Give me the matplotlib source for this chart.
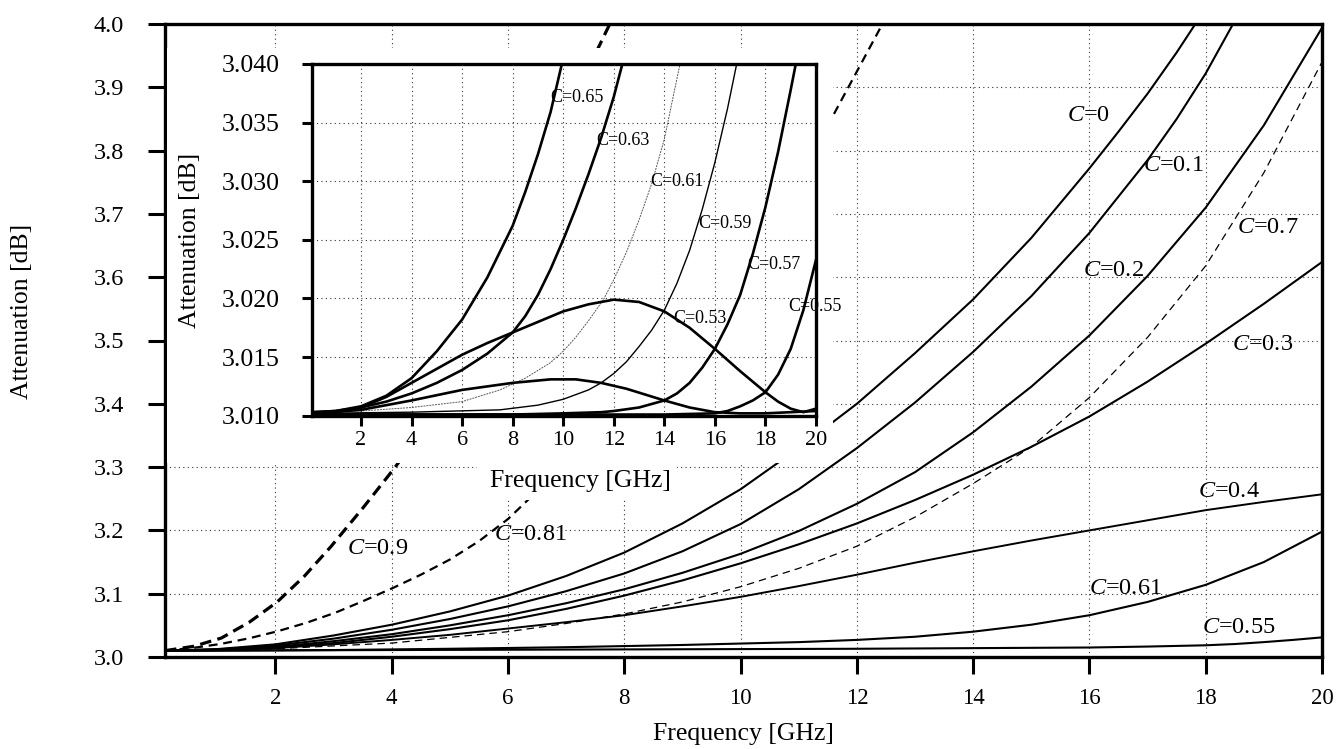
import numpy as np
import matplotlib
matplotlib.use('Agg')
import matplotlib.pyplot as plt
from matplotlib.patches import Rectangle

plt.rcParams['font.family'] = ['Liberation Serif', 'DejaVu Serif']
plt.rcParams['mathtext.fontset'] = 'custom'
plt.rcParams['mathtext.rm'] = 'Liberation Serif'
plt.rcParams['mathtext.it'] = 'Liberation Serif:italic'

# ---------------- main chart data (frequency GHz, attenuation dB) -------------
c00_x = [0.1, 1, 2, 3, 4, 5, 6, 7, 8, 9, 10, 11, 12, 13, 14, 15, 16, 16.5, 17, 17.5, 18]
c00_y = [3.010, 3.0125, 3.020, 3.034, 3.051, 3.072, 3.097, 3.128, 3.165, 3.211,
         3.265, 3.330, 3.400, 3.480, 3.565, 3.662, 3.772, 3.830, 3.890, 3.955, 4.025]
c01_x = [0.1, 1, 2, 3, 4, 5, 6, 7, 8, 9, 10, 11, 12, 13, 14, 15, 16, 17, 17.5, 18, 18.5]
c01_y = [3.010, 3.012, 3.018, 3.029, 3.043, 3.060, 3.080, 3.104, 3.132, 3.167,
         3.210, 3.265, 3.330, 3.402, 3.482, 3.570, 3.670, 3.785, 3.850, 3.922, 4.005]
c02_x = [0.1, 1, 2, 3, 4, 5, 6, 7, 8, 9, 10, 11, 12, 13, 14, 15, 16, 17, 18, 19, 20]
c02_y = [3.010, 3.011, 3.016, 3.025, 3.036, 3.050, 3.066, 3.085, 3.107, 3.133,
         3.163, 3.199, 3.242, 3.292, 3.355, 3.427, 3.508, 3.602, 3.710, 3.840, 3.994]
c03_x = [0.1, 1, 2, 3, 4, 5, 6, 7, 8, 9, 10, 11, 12, 13, 14, 15, 16, 17, 18, 19, 20]
c03_y = [3.010, 3.0115, 3.015, 3.022, 3.032, 3.044, 3.058, 3.076, 3.097, 3.121,
         3.148, 3.178, 3.211, 3.248, 3.288, 3.332, 3.380, 3.435, 3.495, 3.558, 3.624]
c04_x = [0.1, 1, 2, 3, 4, 5, 6, 7, 8, 9, 10, 11, 12, 13, 14, 15, 16, 17, 18, 19, 20]
c04_y = [3.010, 3.011, 3.014, 3.020, 3.027, 3.035, 3.045, 3.055, 3.066, 3.080,
         3.095, 3.112, 3.130, 3.149, 3.167, 3.184, 3.200, 3.216, 3.232, 3.245, 3.257]
c07_x = [0.1, 2, 4, 6, 7, 8, 9, 10, 11, 12, 13, 14, 15, 16, 17, 18, 19, 20]
c07_y = [3.010, 3.013, 3.022, 3.040, 3.053, 3.068, 3.087, 3.111, 3.140, 3.175,
         3.221, 3.274, 3.332, 3.410, 3.505, 3.618, 3.765, 3.940]
c061_x = [0.1, 1, 3, 5, 7, 9, 11, 12, 13, 14, 15, 16, 17, 18, 19, 20]
c061_y = [3.010, 3.010, 3.011, 3.013, 3.0155, 3.019, 3.0235, 3.027, 3.032, 3.040,
          3.051, 3.066, 3.087, 3.114, 3.150, 3.198]
c055_x = [0.1, 4, 8, 12, 14, 16, 17, 18, 18.5, 19, 19.5, 20]
c055_y = [3.010, 3.011, 3.012, 3.013, 3.014, 3.015, 3.0165, 3.0185, 3.0205, 3.0235,
          3.027, 3.031]
c081_x = [0.1, 0.6, 1.05, 1.55, 2.03, 2.53, 3.03, 3.5, 4.03, 4.5, 5, 5.5, 6, 6.5, 7,
          8, 9, 10, 11, 11.63, 12, 12.44]
c081_y = [3.010, 3.0146, 3.0205, 3.0296, 3.0405, 3.054, 3.070, 3.088, 3.1095, 3.130,
          3.154, 3.183, 3.218, 3.262, 3.310, 3.405, 3.510, 3.625, 3.755, 3.862, 3.925,
          4.0]
c09_x = [0.1, 0.6, 1.07, 1.55, 2.03, 2.5, 2.95, 3.5, 4.06, 5, 6, 7, 7.54, 7.75]
c09_y = [3.010, 3.017, 3.030, 3.055, 3.087, 3.128, 3.174, 3.235, 3.300, 3.420,
         3.580, 3.800, 3.960, 4.0]

main_labels = [(15.98, 3.856, '0'), (17.44, 3.777, '0.1'), (19.06, 3.679, '0.7'),
               (16.41, 3.611, '0.2'), (18.97, 3.493, '0.3'), (18.40, 3.261, '0.4'),
               (16.61, 3.109, '0.61'), (18.57, 3.046, '0.55'), (6.38, 3.193, '0.81'),
               (3.75, 3.172, '0.9')]

# ---------------- inset data ----------------
i065_x = [0.1, 1, 2, 3, 4, 5, 6, 7, 8, 8.5, 9, 9.5, 10]
i065_y = [3.0103, 3.0104, 3.0108, 3.0117, 3.0132, 3.0155, 3.0182, 3.0218, 3.0262,
          3.0291, 3.0323, 3.0359, 3.0405]
i063_x = [0.1, 1, 2, 3, 4, 5, 6, 7, 8, 8.5, 9, 9.5, 10, 10.5, 11, 11.5, 12, 12.4]
i063_y = [3.0103, 3.0104, 3.0107, 3.0112, 3.0119, 3.0128, 3.0139, 3.0153, 3.0171,
          3.0185, 3.0203, 3.0225, 3.0250, 3.0277, 3.0306, 3.0337, 3.0372, 3.0405]
i061_x = [0.1, 2, 4, 6, 7.5, 8.5, 9.48, 10, 10.5, 11, 11.59, 12, 12.51, 13, 13.5, 14,
          14.62]
i061_y = [3.0102, 3.0104, 3.0107, 3.0112, 3.0122, 3.0132, 3.0145, 3.0155, 3.0167,
          3.0181, 3.0199, 3.0216, 3.0240, 3.0267, 3.0298, 3.0336, 3.0400]
i059_x = [0.1, 4, 7.5, 9, 10, 11, 11.5, 12, 12.5, 13, 13.5, 14, 14.5, 15, 15.5, 16,
          16.5, 16.9]
i059_y = [3.0102, 3.0103, 3.0105, 3.0109, 3.0114, 3.0122, 3.0128, 3.0136, 3.0146,
          3.0159, 3.0173, 3.0190, 3.0213, 3.0241, 3.0276, 3.0316, 3.0362, 3.0404]
i057_x = [0.1, 8, 10, 11.5, 12, 13, 14, 14.5, 15, 15.5, 16, 16.5, 17, 17.5, 18, 18.5,
          19, 19.2]
i057_y = [3.0101, 3.0101, 3.0102, 3.0103, 3.0104, 3.0107, 3.0113, 3.0119, 3.0128,
          3.0141, 3.0157, 3.0178, 3.0203, 3.0238, 3.0278, 3.0325, 3.0378, 3.0400]
i055_x = [0.1, 10, 14, 16, 16.5, 17, 17.5, 18, 18.5, 19, 19.5, 20]
i055_y = [3.0101, 3.0101, 3.0101, 3.0102, 3.0104, 3.0108, 3.0113, 3.0120, 3.0135,
          3.0157, 3.0190, 3.0233]
i053_x = [0.1, 1, 2, 3, 4, 5, 6, 7, 8, 9, 10, 11, 12, 13, 14, 15, 16, 17, 18, 18.5,
          19, 19.5, 20]
i053_y = [3.0102, 3.0103, 3.0107, 3.0116, 3.0128, 3.0140, 3.0152, 3.0162, 3.0171,
          3.0180, 3.0189, 3.0195, 3.0199, 3.0197, 3.0189, 3.0175, 3.0157, 3.0138,
          3.0120, 3.0112, 3.0106, 3.0103, 3.0106]
i051_x = [0.1, 2, 4, 6, 8, 9.5, 10.5, 11.5, 12.5, 14, 15, 16, 17, 18, 19, 20]
i051_y = [3.0102, 3.0105, 3.0113, 3.0122, 3.0128, 3.0131, 3.0131, 3.0128, 3.0123,
          3.0113, 3.0107, 3.0103, 3.0102, 3.0102, 3.0103, 3.0104]

inset_labels = [(10.55, 3.0371, '0.65'), (12.37, 3.0335, '0.63'), (14.49, 3.0300, '0.61'),
                (16.40, 3.0264, '0.59'), (18.34, 3.0229, '0.57'), (19.96, 3.0193, '0.55'),
                (15.41, 3.0183, '0.53')]

W, H = 1338, 749
fig = plt.figure(figsize=(W / 100, H / 100), dpi=100)


def fx(px):
    return px / W


def fy(py):
    return 1 - py / H


# ---------------- main axes ----------------
ax = fig.add_axes([fx(165), fy(657), (1322 - 165) / W, (657 - 24) / H])
ax.set_zorder(0)
ax.set_xlim(0.1, 20)
ax.set_ylim(3.0, 4.0)
ax.set_xticks(np.arange(2, 21, 2))
ax.set_yticks(np.round(np.arange(3.0, 4.01, 0.1), 1))
ax.set_yticklabels(['%.1f' % v for v in np.arange(3.0, 4.01, 0.1)])
ax.grid(True, linestyle=(0, (1, 3)), color='0.2', linewidth=0.8)
for s in ax.spines.values():
    s.set_linewidth(2.4)
ax.tick_params(axis='both', direction='out', length=12.5, width=2.2)
ax.tick_params(axis='x', labelsize=16.5, pad=10)
ax.tick_params(axis='y', labelsize=17.5, pad=17)

k = 'black'
ax.plot(c00_x, c00_y, color=k, lw=1.5)
ax.plot(c01_x, c01_y, color=k, lw=1.5)
ax.plot(c02_x, c02_y, color=k, lw=1.5)
ax.plot(c03_x, c03_y, color=k, lw=1.5)
ax.plot(c04_x, c04_y, color=k, lw=1.4)
ax.plot(c061_x, c061_y, color=k, lw=1.5)
ax.plot(c055_x, c055_y, color=k, lw=1.5)
ax.plot(c07_x, c07_y, color=k, lw=0.9, linestyle=(0, (6, 4)))
ax.plot(c081_x, c081_y, color=k, lw=1.6, linestyle=(0, (4, 2.6)))
ax.plot(c09_x, c09_y, color=k, lw=2.3, linestyle=(0, (3.6, 2)))

for x, y, t in main_labels:
    ax.text(x, y, r'$C$=' + t, fontsize=17.5, ha='center', va='center')

ax.set_xlabel('Frequency [GHz]', fontsize=18.5)
ax.xaxis.set_label_coords(0.5, -0.105)
fig.text(fx(22), fy(311), 'Attenuation [dB]', rotation=90, fontsize=18.5,
         ha='center', va='center')

# white occlusion behind inset (as in original)
fig.add_artist(Rectangle((fx(167), fy(463)), (833 - 167) / W, (463 - 48) / H,
                         transform=fig.transFigure, facecolor='white',
                         edgecolor='none', zorder=2))
fig.add_artist(Rectangle((fx(477), fy(500)), (677 - 477) / W, (500 - 462) / H,
                         transform=fig.transFigure, facecolor='white',
                         edgecolor='none', zorder=2))

# ---------------- inset axes ----------------
ax2 = fig.add_axes([fx(311.7), fy(415.7), (816 - 311.7) / W, (415.7 - 64) / H])
ax2.set_zorder(3)
ax2.set_xlim(0.05, 20)
ax2.set_ylim(3.010, 3.040)
ax2.set_xticks(np.arange(2, 21, 2))
yt = np.round(np.arange(3.010, 3.0401, 0.005), 3)
ax2.set_yticks(yt)
ax2.set_yticklabels(['%.3f' % v for v in yt])
ax2.grid(True, linestyle=(0, (1, 3)), color='0.2', linewidth=0.8)
for s in ax2.spines.values():
    s.set_linewidth(2.4)
ax2.tick_params(axis='both', direction='out', length=7, width=2.2)
ax2.tick_params(axis='x', labelsize=16, pad=4)
ax2.tick_params(axis='y', labelsize=18.5, pad=16)

ax2.plot(i065_x, i065_y, color=k, lw=1.9)
ax2.plot(i063_x, i063_y, color=k, lw=1.9)
ax2.plot(i061_x, i061_y, color='0.35', lw=0.7, linestyle=(0, (2, 1)))
ax2.plot(i059_x, i059_y, color=k, lw=1.0)
ax2.plot(i057_x, i057_y, color=k, lw=1.9)
ax2.plot(i055_x, i055_y, color=k, lw=1.9)
ax2.plot(i053_x, i053_y, color=k, lw=1.9)
ax2.plot(i051_x, i051_y, color=k, lw=1.9)

for x, y, t in inset_labels:
    ax2.text(x, y, 'C=' + t, fontsize=13, ha='center', va='center', clip_on=False)

ax2.set_xlabel('Frequency [GHz]', fontsize=18.5)
ax2.xaxis.set_label_coords(0.532, -0.154)
fig.text(fx(190), fy(240), 'Attenuation [dB]', rotation=90, fontsize=18.5,
         ha='center', va='center', zorder=5)

fig.savefig('out.png', dpi=100)
